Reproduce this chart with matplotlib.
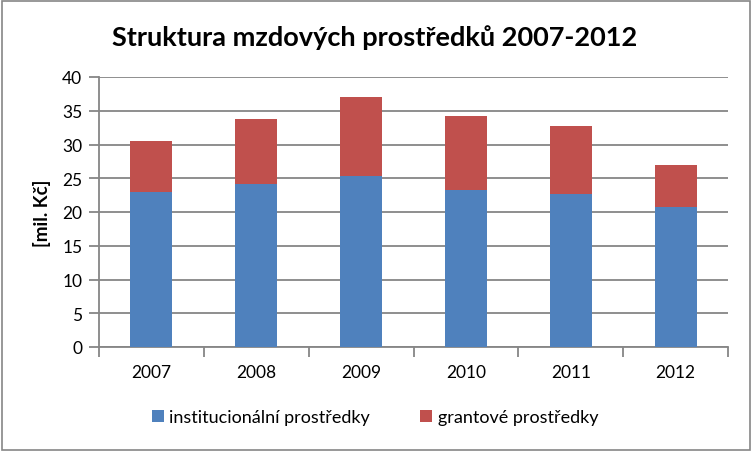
import matplotlib.pyplot as plt
from matplotlib.patches import Rectangle

plt.rcParams['font.family'] = ['Lato', 'DejaVu Sans']

years = ['2007', '2008', '2009', '2010', '2011', '2012']
institucionalni = [22.9, 24.1, 25.3, 23.3, 22.7, 20.8]
grantove = [7.6, 9.7, 11.7, 10.9, 10.0, 6.2]

blue = '#4F81BD'
red = '#C0504D'
grid = '#868686'

fig = plt.figure(figsize=(7.52, 4.52), dpi=100)
ax = fig.add_axes([99 / 752, 1 - 348 / 452, 629 / 752, 270 / 452])

x = range(len(years))
ax.bar(x, institucionalni, width=0.4, color=blue, label='institucionální prostředky', zorder=3)
ax.bar(x, grantove, width=0.4, bottom=institucionalni, color=red, label='grantové prostředky', zorder=3)

ax.set_xlim(-0.5, len(years) - 0.5)
ax.set_ylim(0, 40)
ax.set_yticks(range(0, 41, 5))
ax.yaxis.grid(True, color=grid, linewidth=1.3, zorder=0)
ax.set_xticks(x)
ax.set_xticklabels(years)
ax.set_xticks([i - 0.5 for i in range(len(years) + 1)], minor=True)
ax.tick_params(axis='x', which='major', length=0, pad=12, labelsize=12.5)
ax.tick_params(axis='x', which='minor', length=7, color=grid, width=1.3)
ax.tick_params(axis='y', length=7, color=grid, width=1.3, labelsize=12.5, pad=5)
for s in ['top', 'right']:
    ax.spines[s].set_visible(False)
for s in ['left', 'bottom']:
    ax.spines[s].set_color(grid)
    ax.spines[s].set_linewidth(1.3)

ax.set_ylabel('[mil. Kč]', fontsize=13.5, fontweight='bold', labelpad=8)
fig.text(375 / 752, 1 - 38 / 452, 'Struktura mzdových prostředků 2007-2012',
         ha='center', va='center', fontsize=19.5, fontweight='bold')

fig.legend(loc='center', bbox_to_anchor=(375 / 752, 1 - 418 / 452), ncol=2,
           frameon=False, fontsize=13, handlelength=0.65, handleheight=0.65,
           handletextpad=0.3, columnspacing=2.8)

fig.patches.append(Rectangle((0.002, 0.003), 0.995, 0.993, transform=fig.transFigure,
                             fill=False, edgecolor=grid, linewidth=1.2))

fig.savefig('out.png', dpi=100)
